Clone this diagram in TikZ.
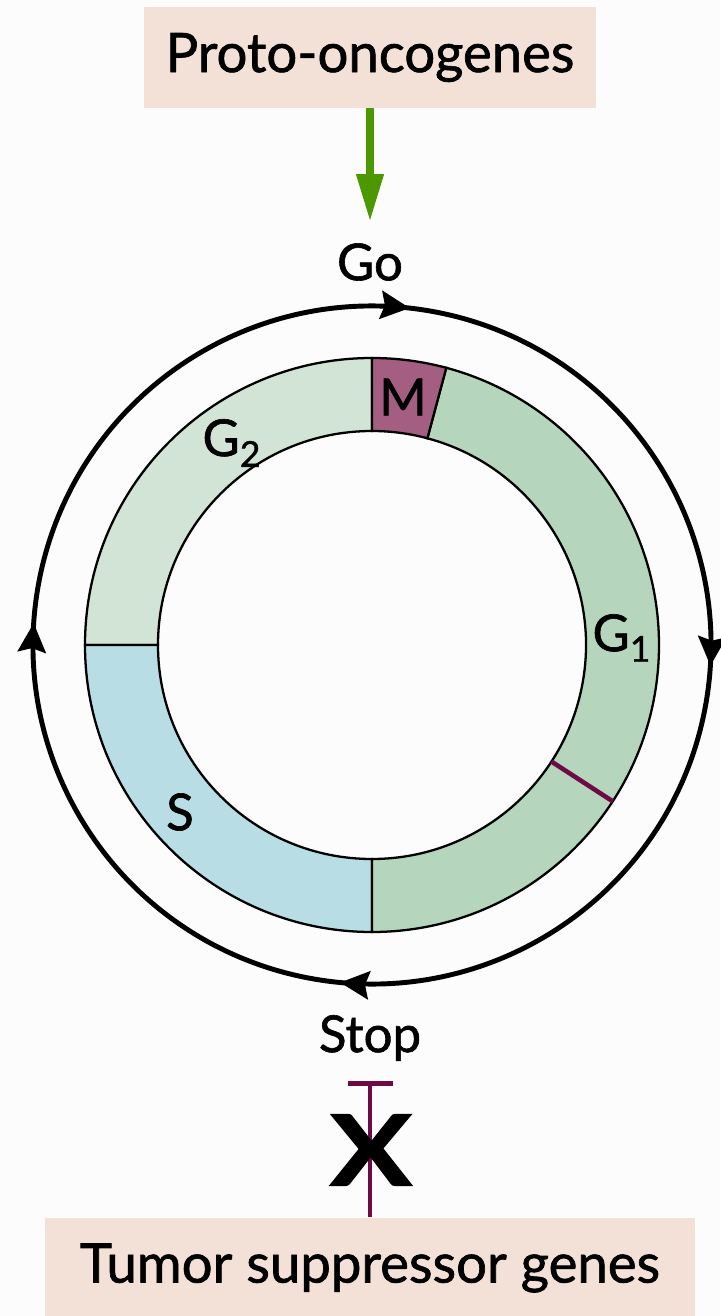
\documentclass[tikz,border=0pt]{standalone}
\usepackage{fontspec}
\setmainfont{Lato}[FakeBold=1.2]
\usepackage{tikz}
\usetikzlibrary{positioning,arrows.meta,decorations.markings}
\definecolor{paper}{HTML}{FCFCFC}
\definecolor{boxpink}{HTML}{F3E1D7}
\definecolor{gogreen}{HTML}{4B9800}
\definecolor{stopplum}{HTML}{6E0A45}
\definecolor{gtwo}{HTML}{D2E4D6}
\definecolor{gone}{HTML}{B5D5BC}
\definecolor{sphase}{HTML}{B8DDE5}
\definecolor{mphase}{HTML}{A45E82}

\begin{document}
\begin{tikzpicture}[
  genebox/.style={fill=boxpink, align=center, font=\fontsize{31}{36}\selectfont,
                  inner sep=0pt, minimum height=2.02cm},
  lbl/.style={font=\fontsize{29}{34}\selectfont, inner sep=1pt},
  phase/.style={draw=black, line width=1.3pt},
  cyc/.style={line width=2.8pt, postaction={decorate}, decoration={markings,
      mark=at position 86.4/360 with {\arrow{Stealth[length=0.58cm, width=0.56cm, inset=0.08cm]}},
      mark=at position 173.5/360 with {\arrow{Stealth[length=0.58cm, width=0.56cm, inset=0.08cm]}},
      mark=at position 265.4/360 with {\arrow{Stealth[length=0.58cm, width=0.56cm, inset=0.08cm]}},
      mark=at position 353.7/360 with {\arrow{Stealth[length=0.58cm, width=0.56cm, inset=0.08cm]}}}}]
  \fill[paper] (-7.44,-13.42) rectangle (6.96,12.9);
  \useasboundingbox (-7.44,-13.42) rectangle (6.96,12.9);
  \def\Ro{5.74} \def\Ri{4.28} \def\Rc{6.78}
  % phases of the ring
  \filldraw[phase, fill=gtwo] (90:\Ro) arc[start angle=90, end angle=180, radius=\Ro]
    -- (180:\Ri) arc[start angle=180, end angle=90, radius=\Ri] -- cycle;
  \filldraw[phase, fill=sphase] (180:\Ro) arc[start angle=180, end angle=270, radius=\Ro]
    -- (270:\Ri) arc[start angle=270, end angle=180, radius=\Ri] -- cycle;
  \filldraw[phase, fill=gone] (-90:\Ro) arc[start angle=-90, end angle=75, radius=\Ro]
    -- (75:\Ri) arc[start angle=75, end angle=-90, radius=\Ri] -- cycle;
  \filldraw[phase, fill=mphase] (75:\Ro) arc[start angle=75, end angle=90, radius=\Ro]
    -- (90:\Ri) arc[start angle=90, end angle=75, radius=\Ri] -- cycle;
  \draw[stopplum, line width=2.6pt] (-33:\Ri) -- (-33:\Ro);
  \node[lbl] (mlab)  at (0.62,4.96)  {M};
  \node[lbl] (g2lab) at (-2.8,4.04)  {G\textsubscript{2}};
  \node[lbl] (g1lab) at (5.0,0.14)   {G\textsubscript{1}};
  \node[lbl] (slab)  at (-3.84,-3.34) {S};
  % clockwise cycle
  \draw[cyc] (170:\Rc) arc[start angle=170, end angle=-190, radius=\Rc];
  % go / stop
  \node[genebox, minimum width=9.02cm] (onco) at (-0.04,11.75) {Proto-oncogenes};
  \node[lbl] (go) at (-0.04,7.66) {Go};
  \draw[gogreen, line width=4pt, -{Triangle[length=0.94cm, width=0.52cm]},
        shorten >=0.4cm] (onco) -- (go);
  \node[lbl] (stop) at (-0.04,-7.86) {Stop};
  \node[genebox, minimum width=13cm] (tsg) at (-0.04,-12.46) {Tumor suppressor genes};
  \draw[stopplum, line width=2.8pt, -{Bar[width=0.9cm, line width=2.8pt]},
        shorten >=0.36cm] (tsg) -- (stop);
  \node[font=\bfseries\fontsize{56}{60}\selectfont, transform shape, xscale=1.25, inner sep=0pt]
        (block) at (-0.02,-10.1) {X};
\end{tikzpicture}
\end{document}
